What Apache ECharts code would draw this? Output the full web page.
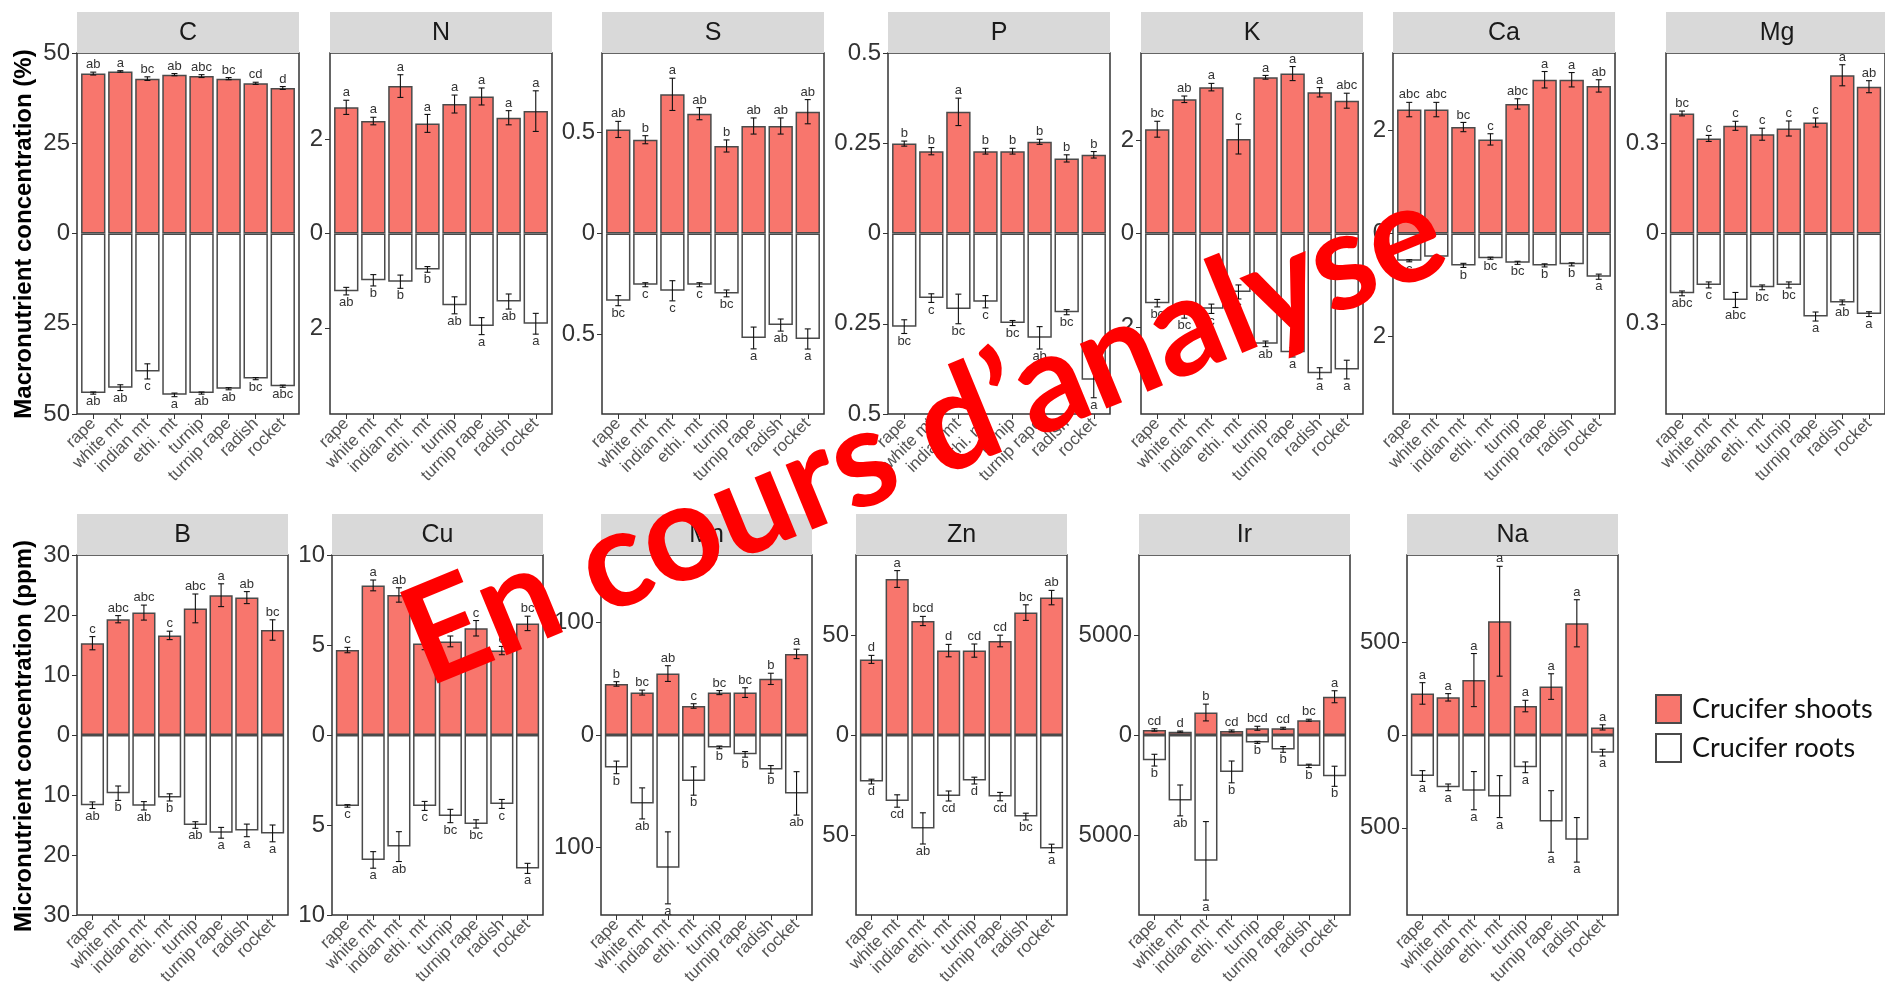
<!DOCTYPE html>
<html>
<head>
<meta charset="utf-8">
<script src="https://cdn.jsdelivr.net/npm/echarts@6/dist/echarts.min.js"></script>
<style>
html,body{margin:0;padding:0;background:#fff;}
#main{width:1885px;height:995px;}
</style>
</head>
<body>
<div id="main"></div>
<script>
const categories = ['rape', 'white mt', 'indian mt', 'ethi. mt', 'turnip', 'turnip rape', 'radish', 'rocket'];

// ---- macronutrients (%) ----
const C_shoots = [44.3, 44.9, 42.9, 44.0, 43.6, 42.9, 41.6, 40.3];
const C_shootsErr = [0.4, 0.2, 0.5, 0.3, 0.4, 0.3, 0.3, 0.4];
const C_shootsLet = ['ab', 'a', 'bc', 'ab', 'abc', 'bc', 'cd', 'd'];
const C_roots = [44.2, 42.7, 38.2, 44.7, 44.2, 43.0, 40.2, 42.3];
const C_rootsErr = [0.3, 0.8, 2.1, 0.5, 0.3, 0.3, 0.3, 0.3];
const C_rootsLet = ['ab', 'ab', 'c', 'a', 'ab', 'ab', 'bc', 'abc'];
const C_ticks = [-50, -25, 0, 25, 50];

const N_shoots = [2.67, 2.38, 3.12, 2.33, 2.74, 2.90, 2.45, 2.59];
const N_shootsErr = [0.15, 0.08, 0.24, 0.19, 0.19, 0.18, 0.15, 0.43];
const N_shootsLet = ['a', 'a', 'a', 'a', 'a', 'a', 'a', 'a'];
const N_roots = [1.22, 0.99, 1.02, 0.76, 1.52, 1.96, 1.44, 1.91];
const N_rootsErr = [0.08, 0.12, 0.14, 0.06, 0.18, 0.18, 0.16, 0.22];
const N_rootsLet = ['ab', 'b', 'b', 'b', 'ab', 'a', 'ab', 'a'];
const N_ticks = [-2, 0, 2];

const S_shoots = [0.516, 0.465, 0.69, 0.594, 0.434, 0.533, 0.533, 0.604];
const S_shootsErr = [0.04, 0.02, 0.08, 0.03, 0.03, 0.04, 0.04, 0.06];
const S_shootsLet = ['ab', 'b', 'a', 'ab', 'b', 'ab', 'ab', 'ab'];
const S_roots = [0.333, 0.254, 0.284, 0.254, 0.297, 0.518, 0.454, 0.523];
const S_rootsErr = [0.025, 0.01, 0.05, 0.01, 0.017, 0.054, 0.03, 0.05];
const S_rootsLet = ['bc', 'c', 'c', 'c', 'bc', 'a', 'ab', 'a'];
const S_ticks = [-0.5, 0, 0.5];

const P_shoots = [0.249, 0.228, 0.337, 0.228, 0.228, 0.254, 0.208, 0.218];
const P_shootsErr = [0.007, 0.01, 0.038, 0.008, 0.008, 0.007, 0.01, 0.009];
const P_shootsLet = ['b', 'b', 'a', 'b', 'b', 'b', 'b', 'b'];
const P_roots = [0.258, 0.179, 0.209, 0.189, 0.248, 0.289, 0.218, 0.405];
const P_rootsErr = [0.019, 0.012, 0.041, 0.017, 0.007, 0.031, 0.007, 0.05];
const P_rootsLet = ['bc', 'c', 'bc', 'c', 'bc', 'ab', 'bc', 'a'];
const P_ticks = [-0.5, -0.25, 0, 0.25, 0.5];

const K_shoots = [2.23, 2.87, 3.13, 2.02, 3.34, 3.42, 3.02, 2.84];
const K_shootsErr = [0.17, 0.07, 0.08, 0.32, 0.04, 0.15, 0.1, 0.16];
const K_shootsLet = ['bc', 'ab', 'a', 'c', 'a', 'a', 'a', 'abc'];
const K_roots = [1.49, 1.71, 1.61, 1.25, 2.36, 2.54, 2.99, 2.91];
const K_rootsErr = [0.08, 0.1, 0.1, 0.15, 0.06, 0.1, 0.12, 0.2];
const K_rootsLet = ['bc', 'bc', 'c', 'c', 'ab', 'a', 'a', 'a'];
const K_ticks = [-2, 0, 2];

const Ca_shoots = [2.41, 2.41, 2.07, 1.83, 2.52, 2.99, 2.99, 2.87];
const Ca_shootsErr = [0.14, 0.14, 0.09, 0.11, 0.1, 0.16, 0.14, 0.12];
const Ca_shootsLet = ['abc', 'abc', 'bc', 'c', 'abc', 'a', 'a', 'ab'];
const Ca_roots = [0.53, 0.45, 0.62, 0.48, 0.57, 0.62, 0.6, 0.84];
const Ca_rootsErr = [0.02, 0.02, 0.04, 0.02, 0.03, 0.03, 0.03, 0.05];
const Ca_rootsLet = ['c', 'c', 'b', 'bc', 'bc', 'b', 'b', 'a'];
const Ca_ticks = [-2, 0, 2];

const Mg_shoots = [0.399, 0.316, 0.358, 0.33, 0.349, 0.369, 0.526, 0.488];
const Mg_shootsErr = [0.008, 0.01, 0.015, 0.02, 0.025, 0.015, 0.035, 0.02];
const Mg_shootsLet = ['bc', 'c', 'c', 'c', 'c', 'c', 'a', 'ab'];
const Mg_roots = [0.199, 0.171, 0.221, 0.179, 0.171, 0.276, 0.229, 0.268];
const Mg_rootsErr = [0.008, 0.01, 0.025, 0.008, 0.01, 0.015, 0.008, 0.008];
const Mg_rootsLet = ['abc', 'c', 'abc', 'bc', 'bc', 'a', 'ab', 'a'];
const Mg_ticks = [-0.3, 0, 0.3];

// ---- micronutrients (ppm) ----
const B_shoots = [15.3, 19.3, 20.4, 16.6, 21.1, 23.3, 22.9, 17.5];
const B_shootsErr = [1.1, 0.6, 1.25, 0.7, 2.4, 1.9, 1.0, 1.7];
const B_shootsLet = ['c', 'abc', 'abc', 'c', 'abc', 'a', 'ab', 'bc'];
const B_roots = [11.7, 9.7, 11.8, 10.4, 15.0, 16.3, 15.9, 16.4];
const B_rootsErr = [0.55, 1.2, 0.7, 0.6, 0.55, 0.9, 1.05, 1.4];
const B_rootsLet = ['ab', 'b', 'ab', 'b', 'ab', 'a', 'a', 'a'];
const B_ticks = [-30, -20, -10, 0, 10, 20, 30];

const Cu_shoots = [4.72, 8.31, 7.78, 5.09, 5.2, 5.93, 4.69, 6.2];
const Cu_shootsErr = [0.15, 0.3, 0.4, 0.35, 0.3, 0.43, 0.23, 0.4];
const Cu_shootsLet = ['c', 'a', 'ab', 'c', 'c', 'c', 'c', 'bc'];
const Cu_roots = [3.94, 6.94, 6.2, 3.94, 4.5, 4.94, 3.83, 7.41];
const Cu_rootsErr = [0.07, 0.46, 0.83, 0.25, 0.37, 0.23, 0.25, 0.28];
const Cu_rootsLet = ['c', 'a', 'ab', 'c', 'bc', 'bc', 'c', 'a'];
const Cu_ticks = [-10, -5, 0, 5, 10];

const Mn_shoots = [45.4, 37.7, 54.6, 25.8, 37.7, 37.7, 49.9, 72.1];
const Mn_shootsErr = [2, 2.2, 7, 2, 1.8, 4.3, 5, 4.2];
const Mn_shootsLet = ['b', 'bc', 'ab', 'c', 'bc', 'bc', 'b', 'a'];
const Mn_roots = [28.8, 60.8, 118.1, 40.9, 11.0, 17.2, 30.6, 51.9];
const Mn_rootsErr = [5.6, 13.8, 32, 12.6, 1.2, 2.5, 3.4, 19.3];
const Mn_rootsLet = ['b', 'ab', 'a', 'b', 'b', 'b', 'b', 'ab'];
const Mn_ticks = [-100, 0, 100];

const Zn_shoots = [37.8, 78, 57, 42.2, 42.2, 47, 61.2, 68.7];
const Zn_shootsErr = [2, 4.2, 2.3, 3.1, 3.3, 2.9, 3.9, 3.6];
const Zn_shootsLet = ['d', 'a', 'bcd', 'd', 'cd', 'cd', 'bc', 'ab'];
const Zn_roots = [23.3, 33, 46.7, 30.5, 22.8, 30.8, 40.8, 56.7];
const Zn_rootsErr = [1.2, 3.1, 7.8, 2.5, 1.7, 2.1, 1.7, 2.1];
const Zn_rootsLet = ['d', 'cd', 'ab', 'cd', 'd', 'cd', 'bc', 'a'];
const Zn_ticks = [-50, 0, 50];

const Ir_shoots = [252, 168, 1124, 201, 336, 336, 738, 1913];
const Ir_shootsErr = [60, 30, 420, 50, 100, 50, 50, 300];
const Ir_shootsLet = ['cd', 'd', 'b', 'cd', 'bcd', 'cd', 'bc', 'a'];
const Ir_roots = [1258, 3272, 6292, 1846, 369, 721, 1544, 2064];
const Ir_rootsErr = [294, 772, 1963, 545, 50, 143, 84, 503];
const Ir_rootsLet = ['b', 'ab', 'a', 'b', 'b', 'b', 'b', 'b'];
const Ir_ticks = [-5000, 0, 5000];

const Na_shoots = [224, 203, 296, 613, 156, 261, 602, 41];
const Na_shootsErr = [58, 20, 143, 296, 31, 69, 127, 14];
const Na_shootsLet = ['a', 'a', 'a', 'a', 'a', 'a', 'a', 'a'];
const Na_roots = [221, 282, 300, 332, 174, 466, 565, 95];
const Na_rootsErr = [29, 18, 103, 113, 29, 166, 120, 18];
const Na_rootsLet = ['a', 'a', 'a', 'a', 'a', 'a', 'a', 'a'];
const Na_ticks = [-500, 0, 500];

// symmetric axis limits of each facet
const limits = {C: 50, N: 3.82, S: 0.895, P: 0.5, K: 3.86, Ca: 3.51, Mg: 0.6,
  B: 30, Cu: 10, Mn: 160, Zn: 90, Ir: 9000, Na: 970};

const FONT = '"Liberation Sans", Arial, sans-serif';

// facet layout (pixels)
const topRow = {top: 53, height: 361, width: 222, lefts: [77, 330, 602, 888, 1141, 1393, 1666]};
const botRow = {top: 555, height: 360, width: 211, lefts: [77, 332, 601, 856, 1139, 1407]};

const facets = [
  ['C', C_shoots, C_shootsErr, C_shootsLet, C_roots, C_rootsErr, C_rootsLet, C_ticks],
  ['N', N_shoots, N_shootsErr, N_shootsLet, N_roots, N_rootsErr, N_rootsLet, N_ticks],
  ['S', S_shoots, S_shootsErr, S_shootsLet, S_roots, S_rootsErr, S_rootsLet, S_ticks],
  ['P', P_shoots, P_shootsErr, P_shootsLet, P_roots, P_rootsErr, P_rootsLet, P_ticks],
  ['K', K_shoots, K_shootsErr, K_shootsLet, K_roots, K_rootsErr, K_rootsLet, K_ticks],
  ['Ca', Ca_shoots, Ca_shootsErr, Ca_shootsLet, Ca_roots, Ca_rootsErr, Ca_rootsLet, Ca_ticks],
  ['Mg', Mg_shoots, Mg_shootsErr, Mg_shootsLet, Mg_roots, Mg_rootsErr, Mg_rootsLet, Mg_ticks],
  ['B', B_shoots, B_shootsErr, B_shootsLet, B_roots, B_rootsErr, B_rootsLet, B_ticks],
  ['Cu', Cu_shoots, Cu_shootsErr, Cu_shootsLet, Cu_roots, Cu_rootsErr, Cu_rootsLet, Cu_ticks],
  ['Mn', Mn_shoots, Mn_shootsErr, Mn_shootsLet, Mn_roots, Mn_rootsErr, Mn_rootsLet, Mn_ticks],
  ['Zn', Zn_shoots, Zn_shootsErr, Zn_shootsLet, Zn_roots, Zn_rootsErr, Zn_rootsLet, Zn_ticks],
  ['Ir', Ir_shoots, Ir_shootsErr, Ir_shootsLet, Ir_roots, Ir_rootsErr, Ir_rootsLet, Ir_ticks],
  ['Na', Na_shoots, Na_shootsErr, Na_shootsLet, Na_roots, Na_rootsErr, Na_rootsLet, Na_ticks]
];

const catIdx = categories.map((c, i) => i);

// error bar + significance letter
function errRenderer(letters) {
  return function (params, api) {
    const x = api.value(0);
    const p1 = api.coord([x, api.value(1)]);
    const p2 = api.coord([x, api.value(2)]);
    const dir = api.value(3);
    const cap = 3;
    const st = {stroke: '#111', lineWidth: 1.1};
    return {
      type: 'group',
      children: [
        {type: 'line', shape: {x1: p1[0], y1: p1[1], x2: p2[0], y2: p2[1]}, style: st},
        {type: 'line', shape: {x1: p1[0] - cap, y1: p1[1], x2: p1[0] + cap, y2: p1[1]}, style: st},
        {type: 'line', shape: {x1: p2[0] - cap, y1: p2[1], x2: p2[0] + cap, y2: p2[1]}, style: st},
        {type: 'text', x: p2[0], y: p2[1] + (dir > 0 ? -1 : 1),
          style: {text: letters[params.dataIndex], align: 'center',
            verticalAlign: dir > 0 ? 'bottom' : 'top', fontSize: 13, fill: '#333', fontFamily: FONT}}
      ]
    };
  };
}

const grids = [], xAxes = [], yAxes = [], series = [], graphics = [];

facets.forEach((f, i) => {
  const [name, shoots, shootsErr, shootsLet, roots, rootsErr, rootsLet, ticks] = f;
  const row = i < 7 ? topRow : botRow;
  const left = row.lefts[i < 7 ? i : i - 7];
  const lim = limits[name];
  grids.push({left: left, top: row.top, width: row.width, height: row.height,
    show: true, borderColor: '#333', borderWidth: 1.5, backgroundColor: '#fff'});
  xAxes.push({type: 'value', gridIndex: i, min: -0.6, max: 7.6, position: 'bottom',
    axisLine: {show: false, onZero: false}, splitLine: {show: false},
    axisTick: {show: true, customValues: catIdx, length: 5, lineStyle: {color: '#333', width: 1}},
    axisLabel: {customValues: catIdx, rotate: 45, margin: 7, fontSize: 17, color: '#555',
      fontFamily: FONT, formatter: v => categories[Math.round(v)]}});
  yAxes.push({type: 'value', gridIndex: i, min: -lim, max: lim, position: 'left',
    axisLine: {show: false, onZero: false}, splitLine: {show: false},
    axisTick: {show: true, customValues: ticks, length: 5, lineStyle: {color: '#333', width: 1}},
    axisLabel: {customValues: ticks, margin: 7, fontSize: 24, color: '#333', fontFamily: FONT,
      formatter: v => String(Math.abs(v))}});
  const bw = 0.9 * row.width / 8.2;
  series.push({name: 'Crucifer shoots', type: 'bar', xAxisIndex: i, yAxisIndex: i,
    barWidth: bw, barGap: '-100%', silent: true,
    itemStyle: {color: '#F8766D', borderColor: '#4a4a4a', borderWidth: 1.5},
    data: shoots.map((v, k) => [k, v])});
  series.push({name: 'Crucifer roots', type: 'bar', xAxisIndex: i, yAxisIndex: i,
    barWidth: bw, barGap: '-100%', silent: true,
    itemStyle: {color: '#ffffff', borderColor: '#4a4a4a', borderWidth: 1.5},
    data: roots.map((v, k) => [k, -v])});
  series.push({type: 'custom', xAxisIndex: i, yAxisIndex: i, silent: true, z: 5,
    renderItem: errRenderer(shootsLet),
    data: shoots.map((v, k) => [k, v - shootsErr[k], v + shootsErr[k], 1])});
  series.push({type: 'custom', xAxisIndex: i, yAxisIndex: i, silent: true, z: 5,
    renderItem: errRenderer(rootsLet),
    data: roots.map((v, k) => [k, -v + rootsErr[k], -v - rootsErr[k], -1])});

  // facet strip
  graphics.push({type: 'rect', silent: true, z: 1,
    shape: {x: left, y: row.top - 41, width: row.width, height: 41},
    style: {fill: '#d9d9d9'}});
  graphics.push({type: 'text', silent: true, z: 2, x: left + row.width / 2, y: row.top - 20,
    style: {text: name, align: 'center', verticalAlign: 'middle', fontSize: 25,
      fill: '#1a1a1a', fontFamily: FONT}});
});

graphics.push({type: 'text', silent: true, x: 24, y: 234, rotation: Math.PI / 2,
  style: {text: 'Macronutrient concentration (%)', align: 'center', verticalAlign: 'middle',
    fontSize: 24, fontWeight: 'bold', fill: '#000', fontFamily: FONT}});
graphics.push({type: 'text', silent: true, x: 24, y: 736, rotation: Math.PI / 2,
  style: {text: 'Micronutrient concentration (ppm)', align: 'center', verticalAlign: 'middle',
    fontSize: 24, fontWeight: 'bold', fill: '#000', fontFamily: FONT}});

// watermark, sized to its length in the picture
const stamp = 'En cours d\u2019analyse';
const ctx = document.createElement('canvas').getContext('2d');
ctx.font = 'bold 100px Lato';
const stampSize = 100 * 1110 / ctx.measureText(stamp).width;
graphics.push({type: 'text', silent: true, z: 100, x: 924, y: 436, rotation: 0.39,
  style: {text: stamp, align: 'center', verticalAlign: 'middle', fontSize: stampSize,
    fontWeight: 'bold', fill: '#ff0000', fontFamily: 'Lato'}});

const chart = echarts.init(document.getElementById('main'), null, {renderer: 'canvas'});
chart.setOption({
  animation: false,
  backgroundColor: '#fff',
  textStyle: {fontFamily: FONT},
  grid: grids,
  xAxis: xAxes,
  yAxis: yAxes,
  series: series,
  legend: {data: ['Crucifer shoots', 'Crucifer roots'], orient: 'vertical', left: 1650, top: 689,
    icon: 'rect', itemWidth: 25, itemHeight: 28, itemGap: 9, selectedMode: false,
    textStyle: {fontSize: 27, color: '#111', fontFamily: 'Lato', padding: [0, 0, 0, 6]}},
  graphic: graphics
});
</script>
</body>
</html>
